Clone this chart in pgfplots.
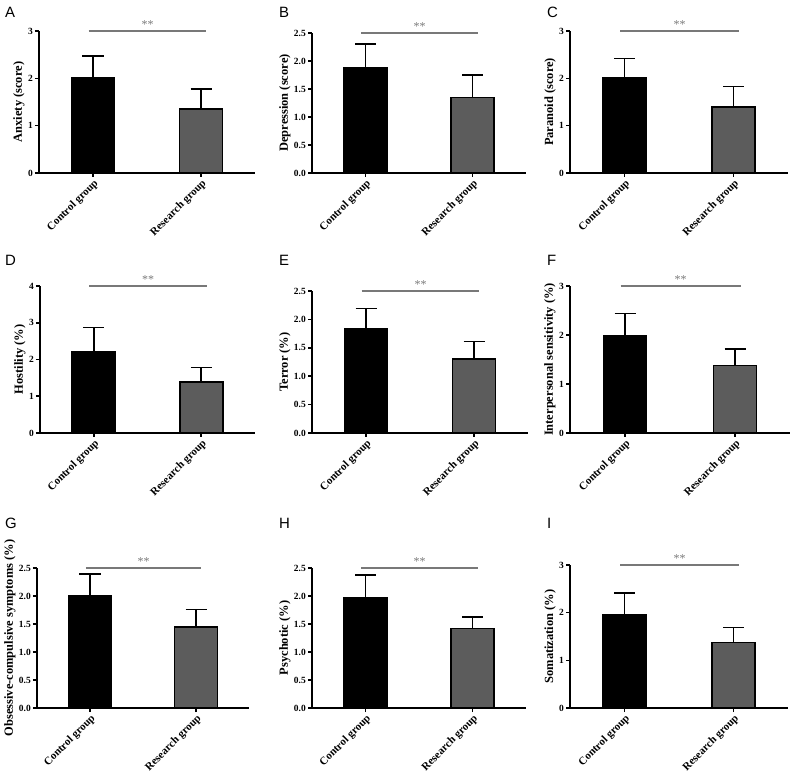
\documentclass[border=0pt]{standalone}
\usepackage{fontspec}
\setmainfont{Liberation Serif}
\newfontfamily\letterfont{Liberation Sans}
\usepackage{pgfplots}
\pgfplotsset{compat=1.18}
\definecolor{resgray}{RGB}{92,92,92}
\definecolor{siggray}{RGB}{120,120,120}
\pgfplotsset{
  panel/.style={
    scale only axis, clip=false, anchor=south west,
    axis x line*=bottom, axis y line*=left,
    axis line style={line width=1.6bp, -},
    xmin=-0.5, xmax=1.5, ymin=0,
    xtick={0,1}, xticklabels={Control group, Research group},
    tick align=outside, major tick length=4bp,
    tick style={line width=1.6bp, black},
    x tick label style={rotate=45, anchor=north east, inner sep=1bp,
      font=\bfseries\fontsize{11}{12}\selectfont},
    y tick label style={font=\bfseries\fontsize{9.5}{10}\selectfont, inner sep=2bp},
    /pgf/number format/assume math mode=true,
    every axis y label/.style={at={(axis description cs:0,0.5)}, rotate=90, anchor=center,
      font=\bfseries\fontsize{12.5}{14}\selectfont},
    ylabel style={yshift=20bp},
  },
  dec/.style={yticklabel style={/pgf/number format/.cd, fixed, fixed zerofill, precision=1},
    ylabel style={yshift=7bp}},
  ctrl/.style={ybar, bar width=43bp, bar shift=0pt, fill=black, draw=black, line width=1.6bp,
    error bars/.cd, y dir=plus, y explicit,
    error bar style={line width=1.6bp, black},
    error mark options={rotate=90, mark size=10.5bp, line width=1.6bp, black}},
  res/.style={ybar, bar width=43bp, bar shift=0pt, fill=resgray, draw=black, line width=1.6bp,
    error bars/.cd, y dir=plus, y explicit,
    error bar style={line width=1.6bp, black},
    error mark options={rotate=90, mark size=10.5bp, line width=1.6bp, black}},
  sig/.style={siggray, line width=1.2bp, sharp plot, no marks},
}
\newcommand{\stars}{node[pos=0.5, above, inner sep=1.5bp, text=siggray, font=\fontsize{12}{12}\selectfont]{**}}
\begin{document}
\begin{tikzpicture}
\path[use as bounding box] (0,0) rectangle (800bp,775bp);
% letters
\foreach \l/\x/\y in {A/5/768, B/279/768, C/547/768, D/5/520, E/279/520, F/547/520, G/5/257, H/279/257, I/547/257}
  \node[anchor=north west, inner sep=0pt, font=\letterfont\fontsize{15}{16}\selectfont] at (\x bp,\y bp) {\l};

% A
\begin{axis}[panel, at={(39bp,602bp)}, width=216bp, height=142bp, ymax=3, ytick={0,1,2,3}, ylabel={Anxiety (score)}]
\addplot[ctrl] coordinates {(0,2.01) +- (0,0.46)};
\addplot[res] coordinates {(1,1.35) +- (0,0.43)};
\addplot[sig] coordinates {(-0.04,3) (1.05,3)} \stars;
\end{axis}
% B
\begin{axis}[panel, dec, at={(312bp,602bp)}, width=214bp, height=140bp, ymax=2.5, ytick={0,0.5,1,1.5,2,2.5}, ylabel={Depression (score)}]
\addplot[ctrl] coordinates {(0,1.87) +- (0,0.43)};
\addplot[res] coordinates {(1,1.345) +- (0,0.405)};
\addplot[sig] coordinates {(-0.04,2.5) (1.05,2.5)} \stars;
\end{axis}
% C
\begin{axis}[panel, at={(570bp,602bp)}, width=218bp, height=142bp, ymax=3, ytick={0,1,2,3}, ylabel={Paranoid (score)}]
\addplot[ctrl] coordinates {(0,2.02) +- (0,0.40)};
\addplot[res] coordinates {(1,1.40) +- (0,0.43)};
\addplot[sig] coordinates {(-0.04,3) (1.05,3)} \stars;
\end{axis}
% D
\begin{axis}[panel, at={(40bp,342bp)}, width=215bp, height=147bp, ymax=4, ytick={0,1,2,3,4}, ylabel={Hostility (\%)}]
\addplot[ctrl] coordinates {(0,2.20) +- (0,0.67)};
\addplot[res] coordinates {(1,1.38) +- (0,0.40)};
\addplot[sig] coordinates {(-0.04,4) (1.05,4)} \stars;
\end{axis}
% E
\begin{axis}[panel, dec, at={(312bp,342bp)}, width=216bp, height=142bp, ymax=2.5, ytick={0,0.5,1,1.5,2,2.5}, ylabel={Terror (\%)}]
\addplot[ctrl] coordinates {(0,1.84) +- (0,0.35)};
\addplot[res] coordinates {(1,1.30) +- (0,0.31)};
\addplot[sig] coordinates {(-0.04,2.5) (1.05,2.5)} \stars;
\end{axis}
% F
\begin{axis}[panel, at={(570bp,342bp)}, width=220bp, height=147bp, ymax=3, ytick={0,1,2,3}, ylabel={Interpersonal sensitivity (\%)}]
\addplot[ctrl] coordinates {(0,1.98) +- (0,0.46)};
\addplot[res] coordinates {(1,1.38) +- (0,0.33)};
\addplot[sig] coordinates {(-0.04,3) (1.05,3)} \stars;
\end{axis}
% G
\begin{axis}[panel, dec, at={(37bp,67bp)}, width=212bp, height=140bp, ymax=2.5, ytick={0,0.5,1,1.5,2,2.5}, ylabel={Obsessive-compulsive symptoms (\%)}]
\addplot[ctrl] coordinates {(0,2.00) +- (0,0.39)};
\addplot[res] coordinates {(1,1.45) +- (0,0.31)};
\addplot[sig] coordinates {(-0.04,2.5) (1.05,2.5)} \stars;
\end{axis}
% H
\begin{axis}[panel, dec, at={(312bp,67bp)}, width=214bp, height=140bp, ymax=2.5, ytick={0,0.5,1,1.5,2,2.5}, ylabel={Psychotic (\%)}]
\addplot[ctrl] coordinates {(0,1.96) +- (0,0.41)};
\addplot[res] coordinates {(1,1.42) +- (0,0.21)};
\addplot[sig] coordinates {(-0.04,2.5) (1.05,2.5)} \stars;
\end{axis}
% I
\begin{axis}[panel, at={(570bp,67bp)}, width=218bp, height=143bp, ymax=3, ytick={0,1,2,3}, ylabel={Somatization (\%)}]
\addplot[ctrl] coordinates {(0,1.95) +- (0,0.46)};
\addplot[res] coordinates {(1,1.37) +- (0,0.32)};
\addplot[sig] coordinates {(-0.04,3) (1.05,3)} \stars;
\end{axis}
\end{tikzpicture}
\end{document}
